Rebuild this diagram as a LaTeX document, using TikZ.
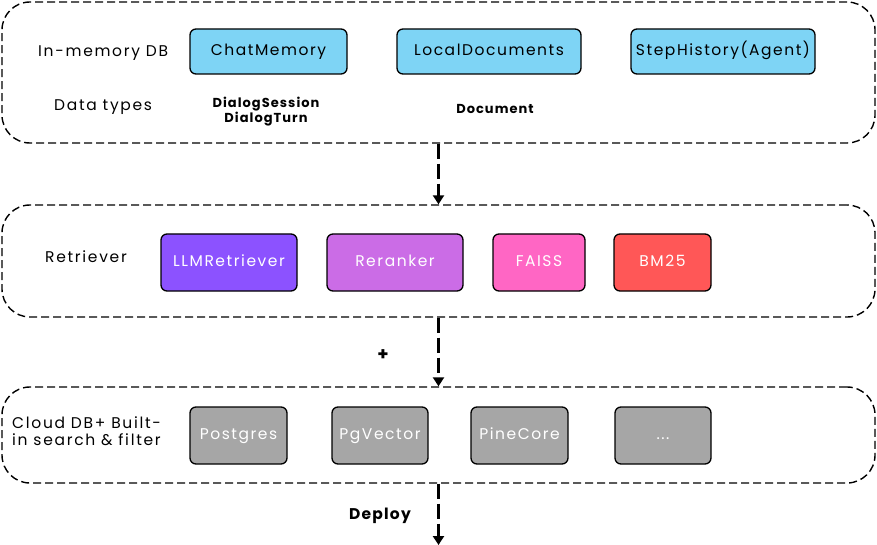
\documentclass[tikz,border=0pt]{standalone}
\usepackage{fontspec}
\setmainfont{Poppins}[LetterSpace=10]
\newfontfamily\lblfont{Poppins}[LetterSpace=11]
\newfontfamily\boldfont{Poppins}[LetterSpace=8]
\usetikzlibrary{arrows.meta}
\definecolor{skyb}{HTML}{7ED4F5}
\definecolor{purp}{HTML}{8C52FF}
\definecolor{lilac}{HTML}{CB6CE6}
\definecolor{pinkc}{HTML}{FF66C4}
\definecolor{redc}{HTML}{FF5757}
\definecolor{greyc}{HTML}{A6A6A6}
\tikzset{
  grp/.style={draw, line width=1.4pt, dash pattern=on 8pt off 4pt, rounded corners=28pt, minimum width=873pt, inner sep=0pt},
  box/.style={draw, line width=1.3pt, rounded corners=6pt, inner sep=0pt, text=white,
    font=\fontsize{15.5}{18}\selectfont, text height=0.8em, text depth=0pt},
  bluebox/.style={box, fill=skyb, text=black, minimum height=45pt},
  colbox/.style={box, minimum height=57pt},
  lbl/.style={font=\lblfont\fontsize{15.5}{17.4}\selectfont, inner sep=0pt, anchor=base west},
  blbl/.style={font=\boldfont\fontsize{13}{15.4}\selectfont\bfseries, inner sep=0pt, align=center, anchor=base},
  flow/.style={line width=2.6pt, dash pattern=on 15pt off 5pt, -{Triangle[length=9pt,width=11pt]}},
}
\begin{document}
\begin{tikzpicture}[x=1pt,y=-1pt]
\useasboundingbox (0,0) rectangle (877,545);
% groups
\node[grp, minimum height=141pt] (g1) at (438.5,72.5) {};
\node[grp, minimum height=112pt] (g2) at (438.5,261) {};
\node[grp, minimum height=96pt] (g3) at (438.5,435) {};
% group 1
\node[lbl] (l1) at (38,56.5) {In-memory DB};
\node[lbl] (l2) at (54,110.7) {Data types};
\node[bluebox, minimum width=157pt] (chat) at (268.5,51.5) {ChatMemory};
\node[bluebox, minimum width=184pt] (local) at (489,51.5) {LocalDocuments};
\node[bluebox, minimum width=184pt] (step) at (723,51.5) {StepHistory(Agent)};
\node[blbl] (dt1) at (266,122.7) {DialogSession\\DialogTurn};
\node[blbl] (dt2) at (495,114) {Document};
% group 2
\node[lbl] (l3) at (45,262.7) {Retriever};
\node[colbox, fill=purp, minimum width=136pt] (llm) at (229,262.5) {LLMRetriever};
\node[colbox, fill=lilac, minimum width=136pt] (rer) at (395,262.5) {Reranker};
\node[colbox, fill=pinkc, minimum width=92pt] (faiss) at (539,262.5) {FAISS};
\node[colbox, fill=redc, minimum width=97pt] (bm) at (662.5,262.5) {BM25};
% group 3
\node[lbl, align=left] (l4) at (12,445.7) {Cloud DB+ Built-\\in search \& filter};
\node[colbox, fill=greyc, minimum width=97pt] (pg) at (238.5,435.5) {Postgres};
\node[colbox, fill=greyc, minimum width=96pt] (pgv) at (380,435.5) {PgVector};
\node[colbox, fill=greyc, minimum width=97pt] (pine) at (519.5,435.5) {PineCore};
\node[colbox, fill=greyc, minimum width=96pt] (more) at (663,435.5) {...};
% arrows
\coordinate (a3e) at (438.5,545);
\draw[flow] (g1.south) -- (g2.north);
\draw[flow] (g2.south) -- (g3.north);
\draw[flow] (g3.south) -- (a3e);
\node[font=\boldfont\fontsize{18}{20}\selectfont\bfseries, inner sep=0pt] (plus) at (383,355) {+};
\node[font=\boldfont\fontsize{15.5}{18}\selectfont\bfseries, inner sep=0pt, anchor=base] (dep) at (380,519.3) {Deploy};
\end{tikzpicture}
\end{document}
